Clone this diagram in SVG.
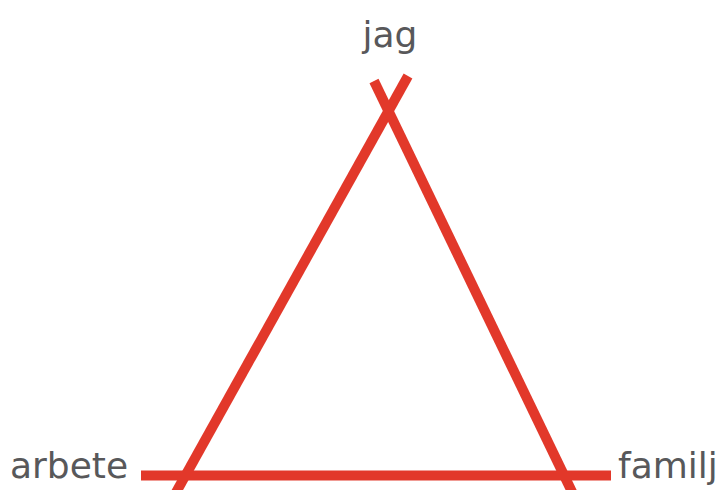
<svg xmlns="http://www.w3.org/2000/svg" width="724" height="490" viewBox="0 0 724 490">
<style>
.edge{stroke:#E2382A;stroke-width:10;fill:none;stroke-linecap:butt}
.lbl{font-family:"DejaVu Sans",sans-serif;font-size:36px;fill:#58585A}
</style>
<rect width="724" height="490" fill="#FFFFFF"/>
<g id="connectors">
<line class="edge" x1="408" y1="76" x2="174" y2="496"/>
<line class="edge" x1="374" y1="81" x2="574" y2="496"/>
<line class="edge" x1="141" y1="475.5" x2="611" y2="475.5"/>
</g>
<g id="jag"><text class="lbl" x="390" y="47" text-anchor="middle">jag</text></g>
<g id="arbete"><text class="lbl" x="10" y="478">arbete</text></g>
<g id="familj"><text class="lbl" x="618" y="478">familj</text></g>
</svg>
